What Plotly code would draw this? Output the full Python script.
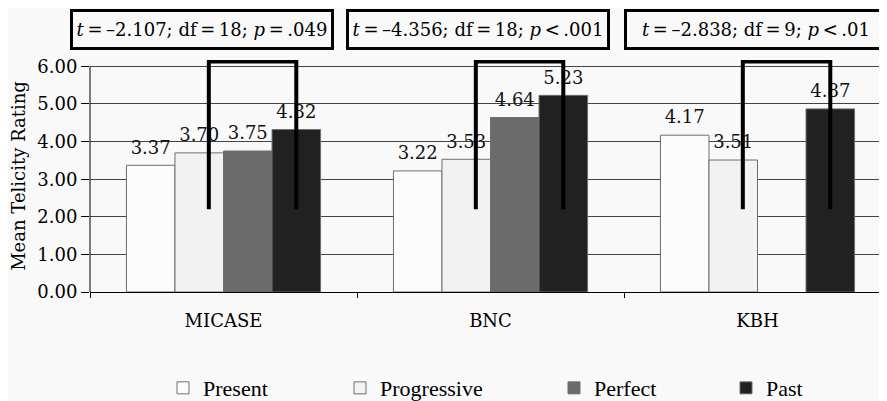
import plotly.graph_objects as go

categories = ["MICASE", "BNC", "KBH"]
series_names = ["Present", "Progressive", "Perfect", "Past"]
present = [3.37, 3.22, 4.17]
progressive = [3.70, 3.53, 3.51]
perfect = [3.75, 4.64, None]
past = [4.32, 5.23, 4.87]
stats_labels = [
    "<i>t</i>\u2009=\u2009–2.107; df\u2009=\u200918; <i>p</i>\u2009=\u2009.049",
    "<i>t</i>\u2009=\u2009–4.356; df\u2009=\u200918; <i>p</i>\u2009<\u2009.001",
    "<i>t</i>\u2009=\u2009–2.838; df\u2009=\u20099; <i>p</i>\u2009<\u2009.01",
]
y_ticks = [0, 1, 2, 3, 4, 5, 6]
y_ticktext = ["0.00", "1.00", "2.00", "3.00", "4.00", "5.00", "6.00"]

BG = "#f9f9f9"
fills = ["#fcfcfc", "#f2f2f2", "#6b6b6b", "#212121"]
SERIF = "DejaVu Serif"
LEG_FONT = "Liberation Serif, Times New Roman, serif"
BARGAP = 0.273
# page offset of the figure (browser body margin)
OFF = 8
legend_text_px = [205, 382, 596, 768]
PLOT_L, PLOT_R = 90 - OFF, 887 - OFF
PLOT_W = PLOT_R - PLOT_L
FIG_W, FIG_H = 887 - OFF, 401 - OFF

fig = go.Figure()
all_series = [present, progressive, perfect, past]
for i, (name, vals) in enumerate(zip(series_names, all_series)):
    fig.add_trace(go.Bar(
        x=categories, y=vals, name=name, offsetgroup=str(i),
        marker=dict(color=fills[i], line=dict(color="#6e6e6e", width=1)),
        legend="legend" if i == 0 else f"legend{i+1}",
    ))
for i, (name, vals) in enumerate(zip(series_names, all_series)):
    fig.add_trace(go.Scatter(
        x=categories, y=vals, offsetgroup=str(i), mode="markers+text",
        marker=dict(size=10, opacity=0),
        text=[("" if v is None else f"{v:.2f}") for v in vals],
        textposition="top center", cliponaxis=False, showlegend=False,
        textfont=dict(family=SERIF, size=18, color="#111"), hoverinfo="skip",
    ))

# brackets (layout shapes), positioned from category index and bar geometry
bw = (1 - BARGAP) / 4
left_off = -0.055
right_off = 1.5 * bw
for j in range(len(categories)):
    x0 = j + left_off
    x1 = j + right_off
    fig.add_shape(type="path",
                  path=f"M {x0},2.2 L {x0},6.13 L {x1},6.13 L {x1},2.2",
                  xref="x", yref="y", line=dict(color="black", width=4), layer="above")

# y axis line from 0 to 6 only
fig.add_shape(type="line", xref="paper", yref="y", x0=0, x1=0, y0=0, y1=6,
              line=dict(color="black", width=1), layer="above")

box_centers_px = [201.5, 478, 756]
for j, txt in enumerate(stats_labels):
    fig.add_annotation(
        text=txt, xref="paper", yref="paper",
        x=(box_centers_px[j] - OFF - PLOT_L) / PLOT_W, y=1.131,
        xanchor="center", yanchor="middle", showarrow=False,
        font=dict(family=SERIF, size=18, color="black"),
        bordercolor="black", borderwidth=3, borderpad=2, bgcolor=BG,
        width=254, height=31,
    )

legend_layouts = {}
for i in range(4):
    key = "legend" if i == 0 else f"legend{i+1}"
    legend_layouts[key] = dict(
        x=(legend_text_px[i] - OFF - 42 - PLOT_L) / PLOT_W, xanchor="left",
        y=-0.414, yanchor="middle", orientation="h",
        font=dict(family=LEG_FONT, size=22, color="black"),
        bgcolor="rgba(0,0,0,0)",
    )

fig.update_layout(
    width=FIG_W, height=FIG_H,
    margin=dict(l=PLOT_L, r=0, t=52, b=109, autoexpand=False),
    paper_bgcolor=BG, plot_bgcolor=BG,
    barmode="group", bargap=BARGAP, bargroupgap=0,
    scattermode="group", scattergap=BARGAP,
    showlegend=True,
    **legend_layouts,
    xaxis=dict(
        type="category", range=[-0.5, -0.5 + PLOT_W / 267.0],
        showline=True, linecolor="black", linewidth=1,
        ticks="outside", tickson="boundaries", ticklen=5, tickcolor="black",
        tickfont=dict(family=SERIF, size=18, color="black"),
        ticklabelstandoff=12, showgrid=False,
    ),
    yaxis=dict(
        range=[0, 6.17], tickvals=y_ticks, ticktext=y_ticktext,
        showline=False, showgrid=True, gridcolor="#444", gridwidth=1,
        zeroline=False,
        ticks="outside", ticklen=8, tickcolor="black",
        tickfont=dict(family=SERIF, size=18, color="black"),
        title=dict(text="Mean Telicity Rating", font=dict(family=SERIF, size=18, color="black"), standoff=8),
    ),
)

fig.write_html("out.html")
